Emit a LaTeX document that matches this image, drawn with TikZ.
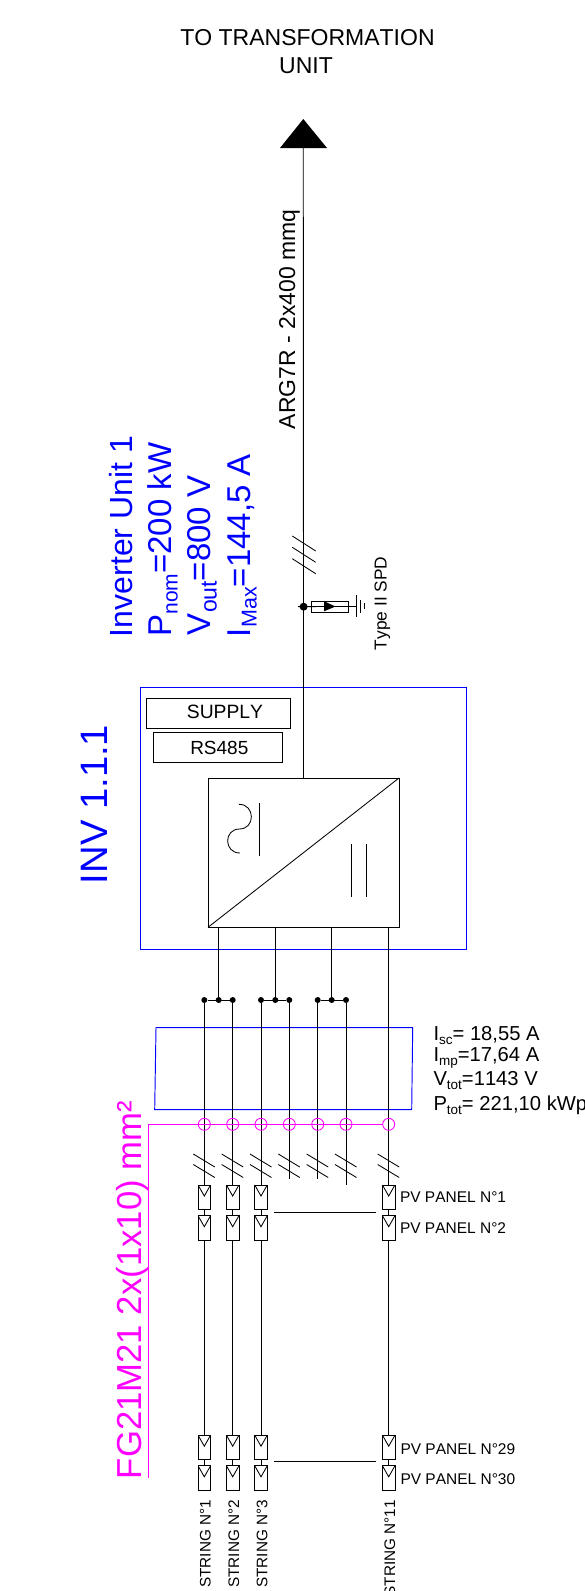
\documentclass[tikz,border=0pt]{standalone}
\usepackage{fontspec}
\setmainfont[Kerning=Off]{Liberation Sans}
\definecolor{mag}{RGB}{255,0,255}
\definecolor{blu}{RGB}{0,0,255}
\newcommand\fsz[1]{\fontsize{#1}{#1}\selectfont}
\newcommand\sbs[2]{\raisebox{-.2em}{\fsz{#1}#2}}
\tikzset{
  wire/.style={line width=.85pt,black},
  bluebox/.style={line width=.95pt,blu},
  magline/.style={line width=.95pt,mag},
  txt/.style={inner sep=0,outer sep=0,black},
  boxn/.style={draw,line width=.85pt,black,inner sep=0,outer sep=0},
  dot/.style={circle,fill=black,inner sep=0,minimum size=6pt},
  magc/.style={circle,draw=mag,line width=.85pt,inner sep=0,minimum size=12pt,outer sep=0},
  panelbox/.style={boxn,minimum width=12.5pt,minimum height=24.4pt,
    path picture={\draw[line width=.85pt] (path picture bounding box.north west) -- ([yshift=-11pt]path picture bounding box.north) -- (path picture bounding box.north east);}},
  vert/.style={txt,rotate=90,anchor=base west},
  verte/.style={txt,rotate=90,anchor=base east,font=\fsz{15.3}},
  pvl/.style={txt,anchor=base west,font=\fsz{15.5}},
  bluet/.style={vert,text=blu,font=\fsz{33}},
}
\begin{document}
\begin{tikzpicture}[x=1pt,y=-1pt]
\useasboundingbox (0,0) rectangle (585,1591);
% heading
\node[txt,font=\fsz{23}] (t1) at (307.5,38) {TO TRANSFORMATION};
\node[txt,font=\fsz{23}] (t2) at (306,65.5) {UNIT};
% arrow
\coordinate (al) at (280,148);
\coordinate (ar) at (327,148);
\coordinate (at) at (303.3,119);
\coordinate (ab) at (303.3,148);
\fill[black] (al) -- (at) -- (ar) -- cycle;
\node[vert,font=\fsz{22.95}] (cable) at (295,429) {ARG7R - 2x400 mmq};
% blue text
\node[bluet,font=\fsz{32}] (u1) at (132.3,637) {Inverter Unit 1};
\node[bluet] (u2) at (171,636.5) {P\sbs{21}{nom}=200 kW};
\node[bluet] (u3) at (210,635) {V\sbs{23}{out}=800 V};
\node[bluet] (u4) at (250,637) {I\sbs{21.5}{Max}=144,5 A};
\node[vert,text=blu,font=\fsz{38.2}] (inv) at (107.3,884) {INV 1.1.1};
% inverter
\draw[bluebox] (140.7,687.3) rectangle (466.7,949);
\node[boxn,minimum width=144pt,minimum height=30pt] (sup) at (218,713.3) {};
\node[txt,font=\fsz{19.3}] (supt) at (225,712) {SUPPLY};
\node[boxn,minimum width=129pt,minimum height=30pt] (rs) at (217.8,747.7) {};
\node[txt,font=\fsz{19}] (rst) at (219.3,748) {RS485};
\node[boxn,minimum width=191pt,minimum height=149.3pt] (conv) at (303.5,852.65) {};
\draw[wire] (conv.south west) -- (conv.north east);
\draw[wire] (239,804.3) .. controls (255.4,804.3) and (255.4,829) .. (239.5,829) .. controls (223.6,829) and (223.6,853) .. (240,853);
\draw[wire] (259.3,803.3) -- (259.3,855.7);
\draw[wire] (351.3,844.3) -- (351.3,896.7);
\draw[wire] (366.3,844.3) -- (366.3,896.7);
% main line
\draw[wire] (ab) -- (conv.north);
\foreach \y in {0,11.3,22.7} \draw[wire] (292.3,536+\y) -- (315.7,551+\y);
% SPD
\node[dot,minimum size=8pt] (spdd) at (303.6,606.7) {};
\node[boxn,minimum width=36.6pt,minimum height=11pt] (spd) at (330,606.5) {};
\coordinate (gnd) at (356.7,606.5);
\draw[wire] (298,606.6) -- (spd.east);
\draw[wire] (spd.east) -- (gnd);
\fill[black] (324,601.2) -- (335.5,606.5) -- (324,611.3) -- cycle;
\draw[wire] (356.7,595) -- (356.7,617.3);
\draw[wire] (360.7,600) -- (360.7,612.7);
\draw[wire] (364.3,603.3) -- (364.3,609.3);
\node[vert,font=\fsz{17.3}] (spdt) at (386.7,650) {Type II SPD};
% feeders and bus
\foreach \n/\x/\a/\c in {1/218.7/204.3/232.7,2/275.3/261/289.3,3/331.7/317.7/346}{
  \coordinate (f\n) at (\x,927.3);
  \node[dot] (d\n b) at (\x,1000) {};
  \node[dot] (d\n a) at (\a,1000) {};
  \node[dot] (d\n c) at (\c,1000) {};
  \draw[wire] (f\n) -- (d\n b);
  \draw[wire] (d\n a) -- (d\n c);
}
% blue combiner
\draw[bluebox] (156,1027.7) -- (412.7,1027.7) -- (411.7,1109.7) -- (154.7,1109.7) -- cycle;
% string lines
\foreach \n/\x in {1/204.3,2/232.7,3/261,7/388.7}{
  \node[panelbox] (pa\n) at (\x,1197.2) {};
  \node[panelbox] (pb\n) at (\x,1227.9) {};
  \node[panelbox] (pc\n) at (\x,1447.4) {};
  \node[panelbox] (pd\n) at (\x,1478) {};
  \draw[wire] (pa\n.south) -- (pb\n.north);
  \draw[wire] (pb\n.south) -- (pc\n.north);
  \draw[wire] (pc\n.south) -- (pd\n.north);
}
\draw[wire] (d1a) -- (pa1.north);
\draw[wire] (d1c) -- (pa2.north);
\draw[wire] (d2a) -- (pa3.north);
\coordinate (e4) at (289.3,1179);
\coordinate (e5) at (317.7,1179);
\coordinate (e6) at (346,1185);
\draw[wire] (d2c) -- (e4);
\draw[wire] (d3a) -- (e5);
\draw[wire] (d3c) -- (e6);
\coordinate (f4) at (388.7,927.3);
\draw[wire] (f4) -- (pa7.north);
\foreach \x in {204.3,232.7,261,289.3,317.7,346,388.7}{
  \draw[wire] (\x-11,1154) -- (\x+10.5,1167);
  \draw[wire] (\x-11,1164.5) -- (\x+10.5,1177.5);
}
% continuation
\coordinate (c1l) at (274.3,1212.3);
\coordinate (c1r) at (376,1212.3);
\coordinate (c2l) at (274.3,1461);
\coordinate (c2r) at (376,1461);
\draw[wire] (c1l) -- (c1r);
\draw[wire] (c2l) -- (c2r);
% magenta
\foreach \n/\x in {1/204.3,2/232.7,3/261,4/289.3,5/317.7,6/346,7/388.7}
  \node[magc] (m\n) at (\x,1124.3) {};
\coordinate (mc) at (148.7,1124.3);
\coordinate (me) at (148.7,1478);
\draw[magline] (me) -- (mc) -- (m7.west);
\node[vert,text=mag,font=\fsz{34.7}] (fg) at (141.7,1479) {FG21M21 2x(1x10) mm²};
% data
\node[txt,anchor=base west,font=\fsz{20.2}] (i1) at (433.5,1040) {I\sbs{13.5}{sc}= 18,55 A};
\node[txt,anchor=base west,font=\fsz{20.2}] (i2) at (433.5,1061.7) {I\sbs{13.5}{mp}=17,64 A};
\node[txt,anchor=base west,font=\fsz{20.2}] (i3) at (433.5,1085) {V\sbs{13.5}{tot}=1143 V};
\node[txt,anchor=base west,font=\fsz{20.2}] (i4) at (433.5,1110) {P\sbs{13.5}{tot}= 221,10 kWp};
% panel labels
\node[pvl] (l1) at (400,1202.5) {PV PANEL N°1};
\node[pvl] (l2) at (400,1233) {PV PANEL N°2};
\node[pvl] (l3) at (400.5,1454.3) {PV PANEL N°29};
\node[pvl] (l4) at (400.5,1484.3) {PV PANEL N°30};
\node[verte] (s1) at (210.7,1500) {STRING N°1};
\node[verte] (s2) at (239,1500) {STRING N°2};
\node[verte] (s3) at (267.3,1500) {STRING N°3};
\node[verte] (s4) at (395,1500) {STRING N°11};
\end{tikzpicture}
\end{document}
